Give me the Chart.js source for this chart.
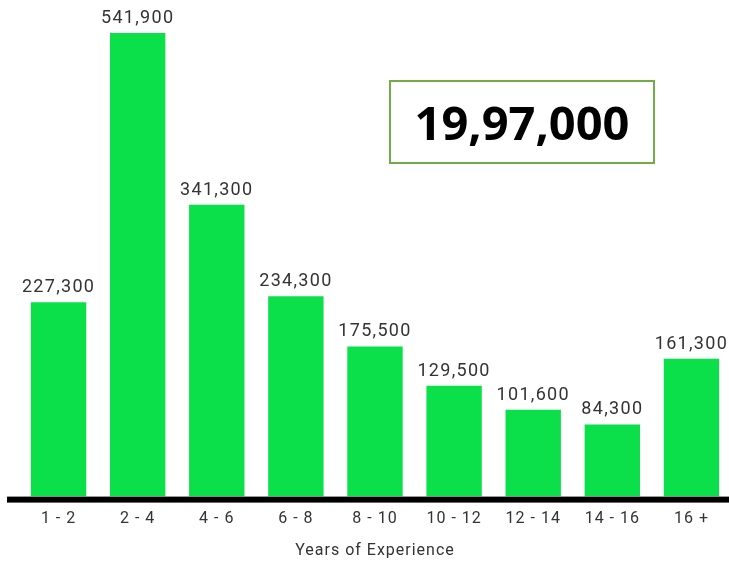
<!DOCTYPE html>
<html>
<head>
<meta charset="utf-8">
<script src="https://cdn.jsdelivr.net/npm/chart.js@4/dist/chart.umd.min.js"></script>
<style>
  html, body { margin: 0; padding: 0; background: #fff; overflow: hidden; }
  #wrap { position: relative; width: 729px; height: 561px; overflow: hidden; }
  #total {
    position: absolute; left: 389px; top: 80px; width: 262px; height: 80px;
    border: 2px solid #70ad47; box-sizing: content-box;
    font: bold 47px 'Open Sans', sans-serif; color: #000;
    display: flex; align-items: center; justify-content: center;
  }
</style>
</head>
<body>
<div id="wrap">
  <canvas id="c" width="731" height="561"></canvas>
  <div id="total">19,97,000</div>
</div>
<script>
// experience buckets and headcount
const categories = ['1 - 2', '2 - 4', '4 - 6', '6 - 8', '8 - 10', '10 - 12', '12 - 14', '14 - 16', '16 +'];
const counts = [227300, 541900, 341300, 234300, 175500, 129500, 101600, 84300, 161300];
const axisTitle = 'Years of Experience';

const GREEN = '#0be04a';

// wider letter spacing for all canvas text, closer to the original's font
const spacing = {
  id: 'spacing',
  beforeDraw(chart) { chart.ctx.letterSpacing = '1px'; },
};

const valueLabels = {
  id: 'valueLabels',
  afterDatasetsDraw(chart) {
    const { ctx } = chart;
    const meta = chart.getDatasetMeta(0);
    ctx.save();
    ctx.font = "18px 'Roboto', sans-serif";
    ctx.letterSpacing = '1.3px';
    ctx.fillStyle = '#333';
    ctx.textAlign = 'center';
    ctx.textBaseline = 'alphabetic';
    meta.data.forEach((bar, i) => {
      ctx.fillText(counts[i].toLocaleString('en-US'), bar.x, bar.y - 10);
    });
    ctx.restore();
  },
};

const baseline = {
  id: 'baseline',
  afterDatasetsDraw(chart) {
    const { ctx, chartArea } = chart;
    ctx.save();
    ctx.fillStyle = '#000';
    ctx.fillRect(7, chartArea.bottom, chart.width - 7, 6);
    ctx.restore();
  },
};

new Chart(document.getElementById('c'), {
  type: 'bar',
  data: {
    labels: categories,
    datasets: [{
      data: counts,
      backgroundColor: GREEN,
      barPercentage: 0.7,
      categoryPercentage: 1,
    }],
  },
  options: {
    responsive: false,
    animation: false,
    layout: { padding: { left: 19, right: 0, top: 0, bottom: 0 } },
    plugins: { legend: { display: false }, tooltip: { enabled: false } },
    scales: {
      x: {
        grid: { display: false, drawTicks: false },
        border: { display: false },
        ticks: { color: '#333', padding: 13, font: { family: 'Roboto', size: 16 } },
        title: {
          display: true,
          text: axisTitle,
          color: '#333',
          font: { family: 'Roboto', size: 16 },
          padding: { top: 0, bottom: 0 },
        },
      },
      y: { display: false, min: 0, max: 580600 },
    },
  },
  plugins: [spacing, valueLabels, baseline],
});
</script>
</body>
</html>
